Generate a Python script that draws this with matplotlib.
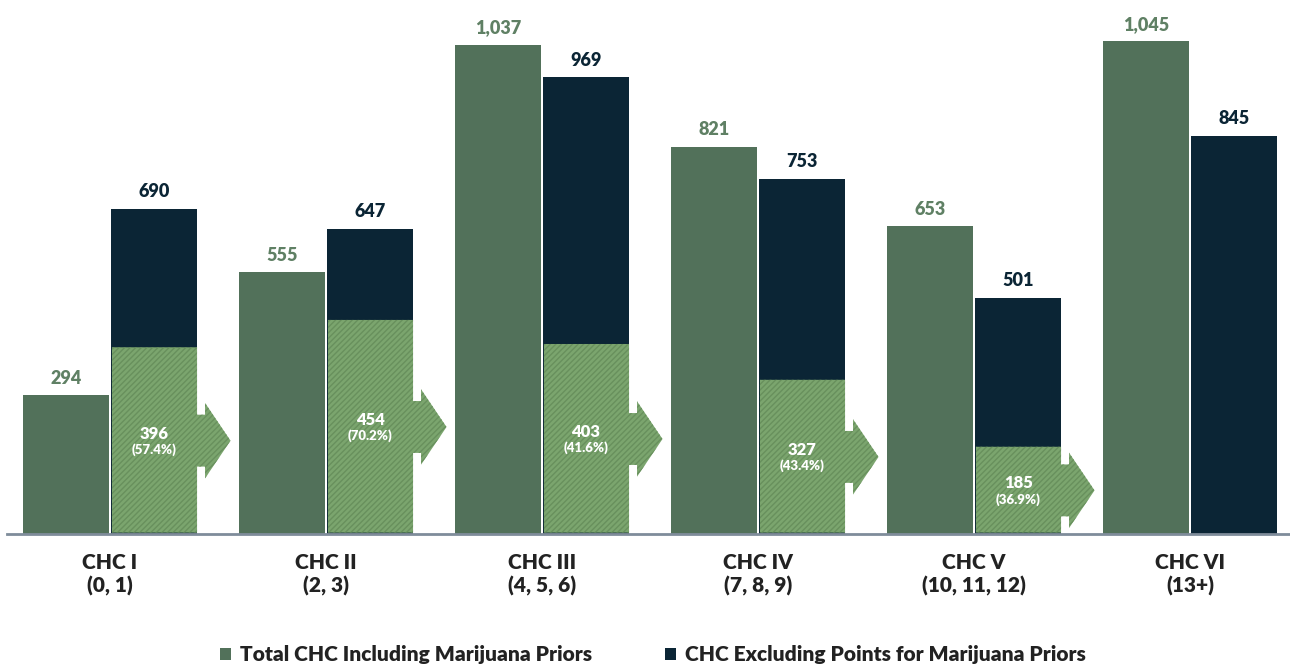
import numpy as np
import matplotlib.pyplot as plt
from matplotlib.patches import Polygon, Patch

plt.rcParams['font.family'] = ['Lato', 'DejaVu Sans']
plt.rcParams['hatch.linewidth'] = 1.0

categories = ['CHC I\n(0, 1)', 'CHC II\n(2, 3)', 'CHC III\n(4, 5, 6)',
              'CHC IV\n(7, 8, 9)', 'CHC V\n(10, 11, 12)', 'CHC VI\n(13+)']
total_incl = [294, 555, 1037, 821, 653, 1045]
excl_marij = [690, 647, 969, 753, 501, 845]
shift_n = [396, 454, 403, 327, 185, None]
shift_pct = ['57.4%', '70.2%', '41.6%', '43.4%', '36.9%', None]

green = '#52715a'
green_txt = '#5f8064'
navy = '#0b2535'
hatch_face = '#7ba56e'
hatch_line = '#68905d'

fig = plt.figure(figsize=(12.9, 6.66), dpi=100)
ax = fig.add_axes([7 / 1290, 132 / 666, 1 - 7 / 1290, 534 / 666])

x = np.arange(len(categories))
w = 0.398
off = 0.204
ax.bar(x - off, total_incl, width=w, color=green, zorder=2)
ax.bar(x + off, excl_marij, width=w, color=navy, zorder=2)

for i in range(len(categories)):
    ax.text(x[i] - off, total_incl[i] + 18, f'{total_incl[i]:,}', ha='center', va='bottom',
            fontsize=13, fontweight='heavy', color=green_txt)
    ax.text(x[i] + off, excl_marij[i] + 18, f'{excl_marij[i]:,}', ha='center', va='bottom',
            fontsize=13, fontweight='heavy', color=navy)
    if shift_n[i] is None:
        continue
    # hatched share of the dark bar, with a block arrow pointing to the next group
    h = shift_n[i]
    xl = x[i] + off - w / 2 + 0.004
    xr = x[i] + off + w / 2
    c = h / 2
    s, hh = 55, 80
    a = xr + 0.037
    tip = xr + 0.155
    pts = [(xl, 3), (xr, 3), (xr, c - s), (a, c - s), (a, c - hh), (tip, c),
           (a, c + hh), (a, c + s), (xr, c + s), (xr, h), (xl, h)]
    ax.add_patch(Polygon(pts, closed=True, facecolor=hatch_face, edgecolor=hatch_line,
                         hatch='//////', linewidth=0, zorder=3))
    ax.text(x[i] + off, c + 15, f'{h}', ha='center', va='center', fontsize=12,
            fontweight='heavy', color='white', zorder=4)
    ax.text(x[i] + off, c - 19, f'({shift_pct[i]})', ha='center', va='center', fontsize=9.5,
            fontweight='heavy', color='white', zorder=4)

ax.set_xlim(-(110 - 7) / 216, (1290 - 110) / 216)
ax.set_ylim(0, 534 / 0.4715)
ax.set_xticks(x)
ax.set_xticklabels(categories, fontsize=15, fontweight='heavy', color='#222222', linespacing=1.2)
ax.tick_params(axis='x', length=0, pad=14)
ax.set_yticks([])
for sp in ['top', 'left', 'right']:
    ax.spines[sp].set_visible(False)
ax.spines['bottom'].set_color('#7f8c9a')
ax.spines['bottom'].set_linewidth(2)
ax.spines['bottom'].set_zorder(5)

handles = [Patch(facecolor=green, label='Total CHC Including Marijuana Priors'),
           Patch(facecolor=navy, label='CHC Excluding Points for Marijuana Priors')]
leg = fig.legend(handles=handles, loc='center', bbox_to_anchor=(0.506, 0.017), ncol=2,
                 frameon=False, handlelength=0.55, handleheight=0.55, handletextpad=0.4,
                 columnspacing=3.5, prop={'weight': 'heavy', 'size': 15})
for t in leg.get_texts():
    t.set_color('#222222')

fig.savefig('out.png', dpi=100)
